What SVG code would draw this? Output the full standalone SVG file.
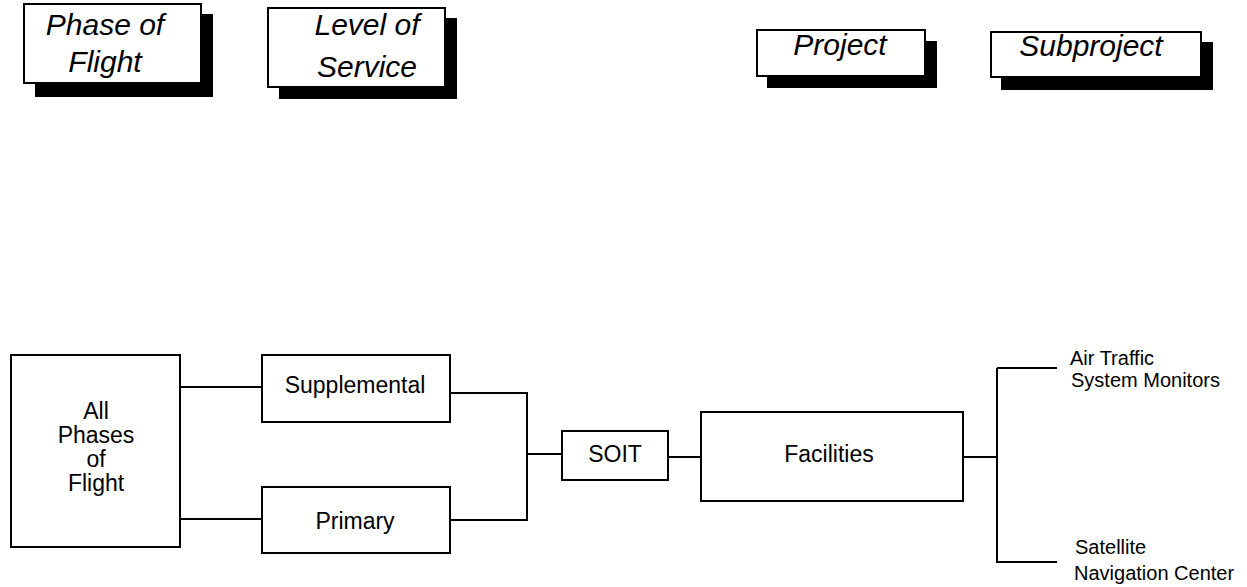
<svg xmlns="http://www.w3.org/2000/svg" width="1247" height="587" viewBox="0 0 1247 587">
  <style>
    .box { fill: #fff; stroke: #000; stroke-width: 2; }
    .shadow { fill: #000; }
    .head { font-family: "Liberation Sans", Arial, sans-serif; font-style: italic; font-size: 30px; fill: #000; text-anchor: middle; }
    .lbl { font-family: "Liberation Sans", Arial, sans-serif; font-size: 23px; fill: #000; text-anchor: middle; }
    .side { font-family: "Liberation Sans", Arial, sans-serif; font-size: 20px; fill: #000; }
    .wire { fill: none; stroke: #000; stroke-width: 2; }
  </style>
  <rect width="1247" height="587" fill="#fff"/>

  <!-- column headers with drop shadows -->
  <g id="hdr-phase">
    <rect class="shadow" x="35" y="14" width="178" height="83"/>
    <rect class="box" x="24" y="4" width="177" height="79"/>
    <text class="head" x="105" y="35">Phase of</text>
    <text class="head" x="105" y="72">Flight</text>
  </g>
  <g id="hdr-level">
    <rect class="shadow" x="279" y="18" width="178" height="81"/>
    <rect class="box" x="268" y="8" width="177" height="79"/>
    <text class="head" x="367" y="35">Level of</text>
    <text class="head" x="367" y="77">Service</text>
  </g>
  <g id="hdr-project">
    <rect class="shadow" x="767" y="41" width="170" height="47"/>
    <rect class="box" x="757" y="30" width="168" height="46"/>
    <text class="head" x="840" y="55">Project</text>
  </g>
  <g id="hdr-subproject">
    <rect class="shadow" x="1001" y="42" width="212" height="48"/>
    <rect class="box" x="991" y="32" width="210" height="45"/>
    <text class="head" x="1091" y="56">Subproject</text>
  </g>

  <!-- connectors -->
  <g id="connectors">
    <path class="wire" d="M180 387 H262"/>
    <path class="wire" d="M180 519 H262"/>
    <path class="wire" d="M450 393 H527 V520 H450"/>
    <path class="wire" d="M527 454 H562"/>
    <path class="wire" d="M668 457 H701"/>
    <path class="wire" d="M963 457 H997"/>
    <path class="wire" d="M997 368 V563"/>
    <path class="wire" d="M997 368 H1057"/>
    <path class="wire" d="M997 562 H1057"/>
  </g>

  <!-- nodes -->
  <g id="all-phases">
    <rect class="box" x="11" y="355" width="169" height="192"/>
    <text class="lbl" x="96" y="419">All</text>
    <text class="lbl" x="96" y="443">Phases</text>
    <text class="lbl" x="96" y="467">of</text>
    <text class="lbl" x="96" y="491">Flight</text>
  </g>
  <g id="supplemental">
    <rect class="box" x="262" y="355" width="188" height="67"/>
    <text class="lbl" x="355" y="393">Supplemental</text>
  </g>
  <g id="primary">
    <rect class="box" x="262" y="487" width="188" height="66"/>
    <text class="lbl" x="355" y="529">Primary</text>
  </g>
  <g id="soit">
    <rect class="box" x="562" y="431" width="106" height="49"/>
    <text class="lbl" x="615" y="462">SOIT</text>
  </g>
  <g id="facilities">
    <rect class="box" x="701" y="412" width="262" height="89"/>
    <text class="lbl" x="829" y="462">Facilities</text>
  </g>
  <g id="atsm">
    <text class="side" x="1070" y="365">Air Traffic</text>
    <text class="side" x="1071" y="387">System Monitors</text>
  </g>
  <g id="snc">
    <text class="side" x="1075" y="554">Satellite</text>
    <text class="side" x="1074" y="580">Navigation Center</text>
  </g>
</svg>
